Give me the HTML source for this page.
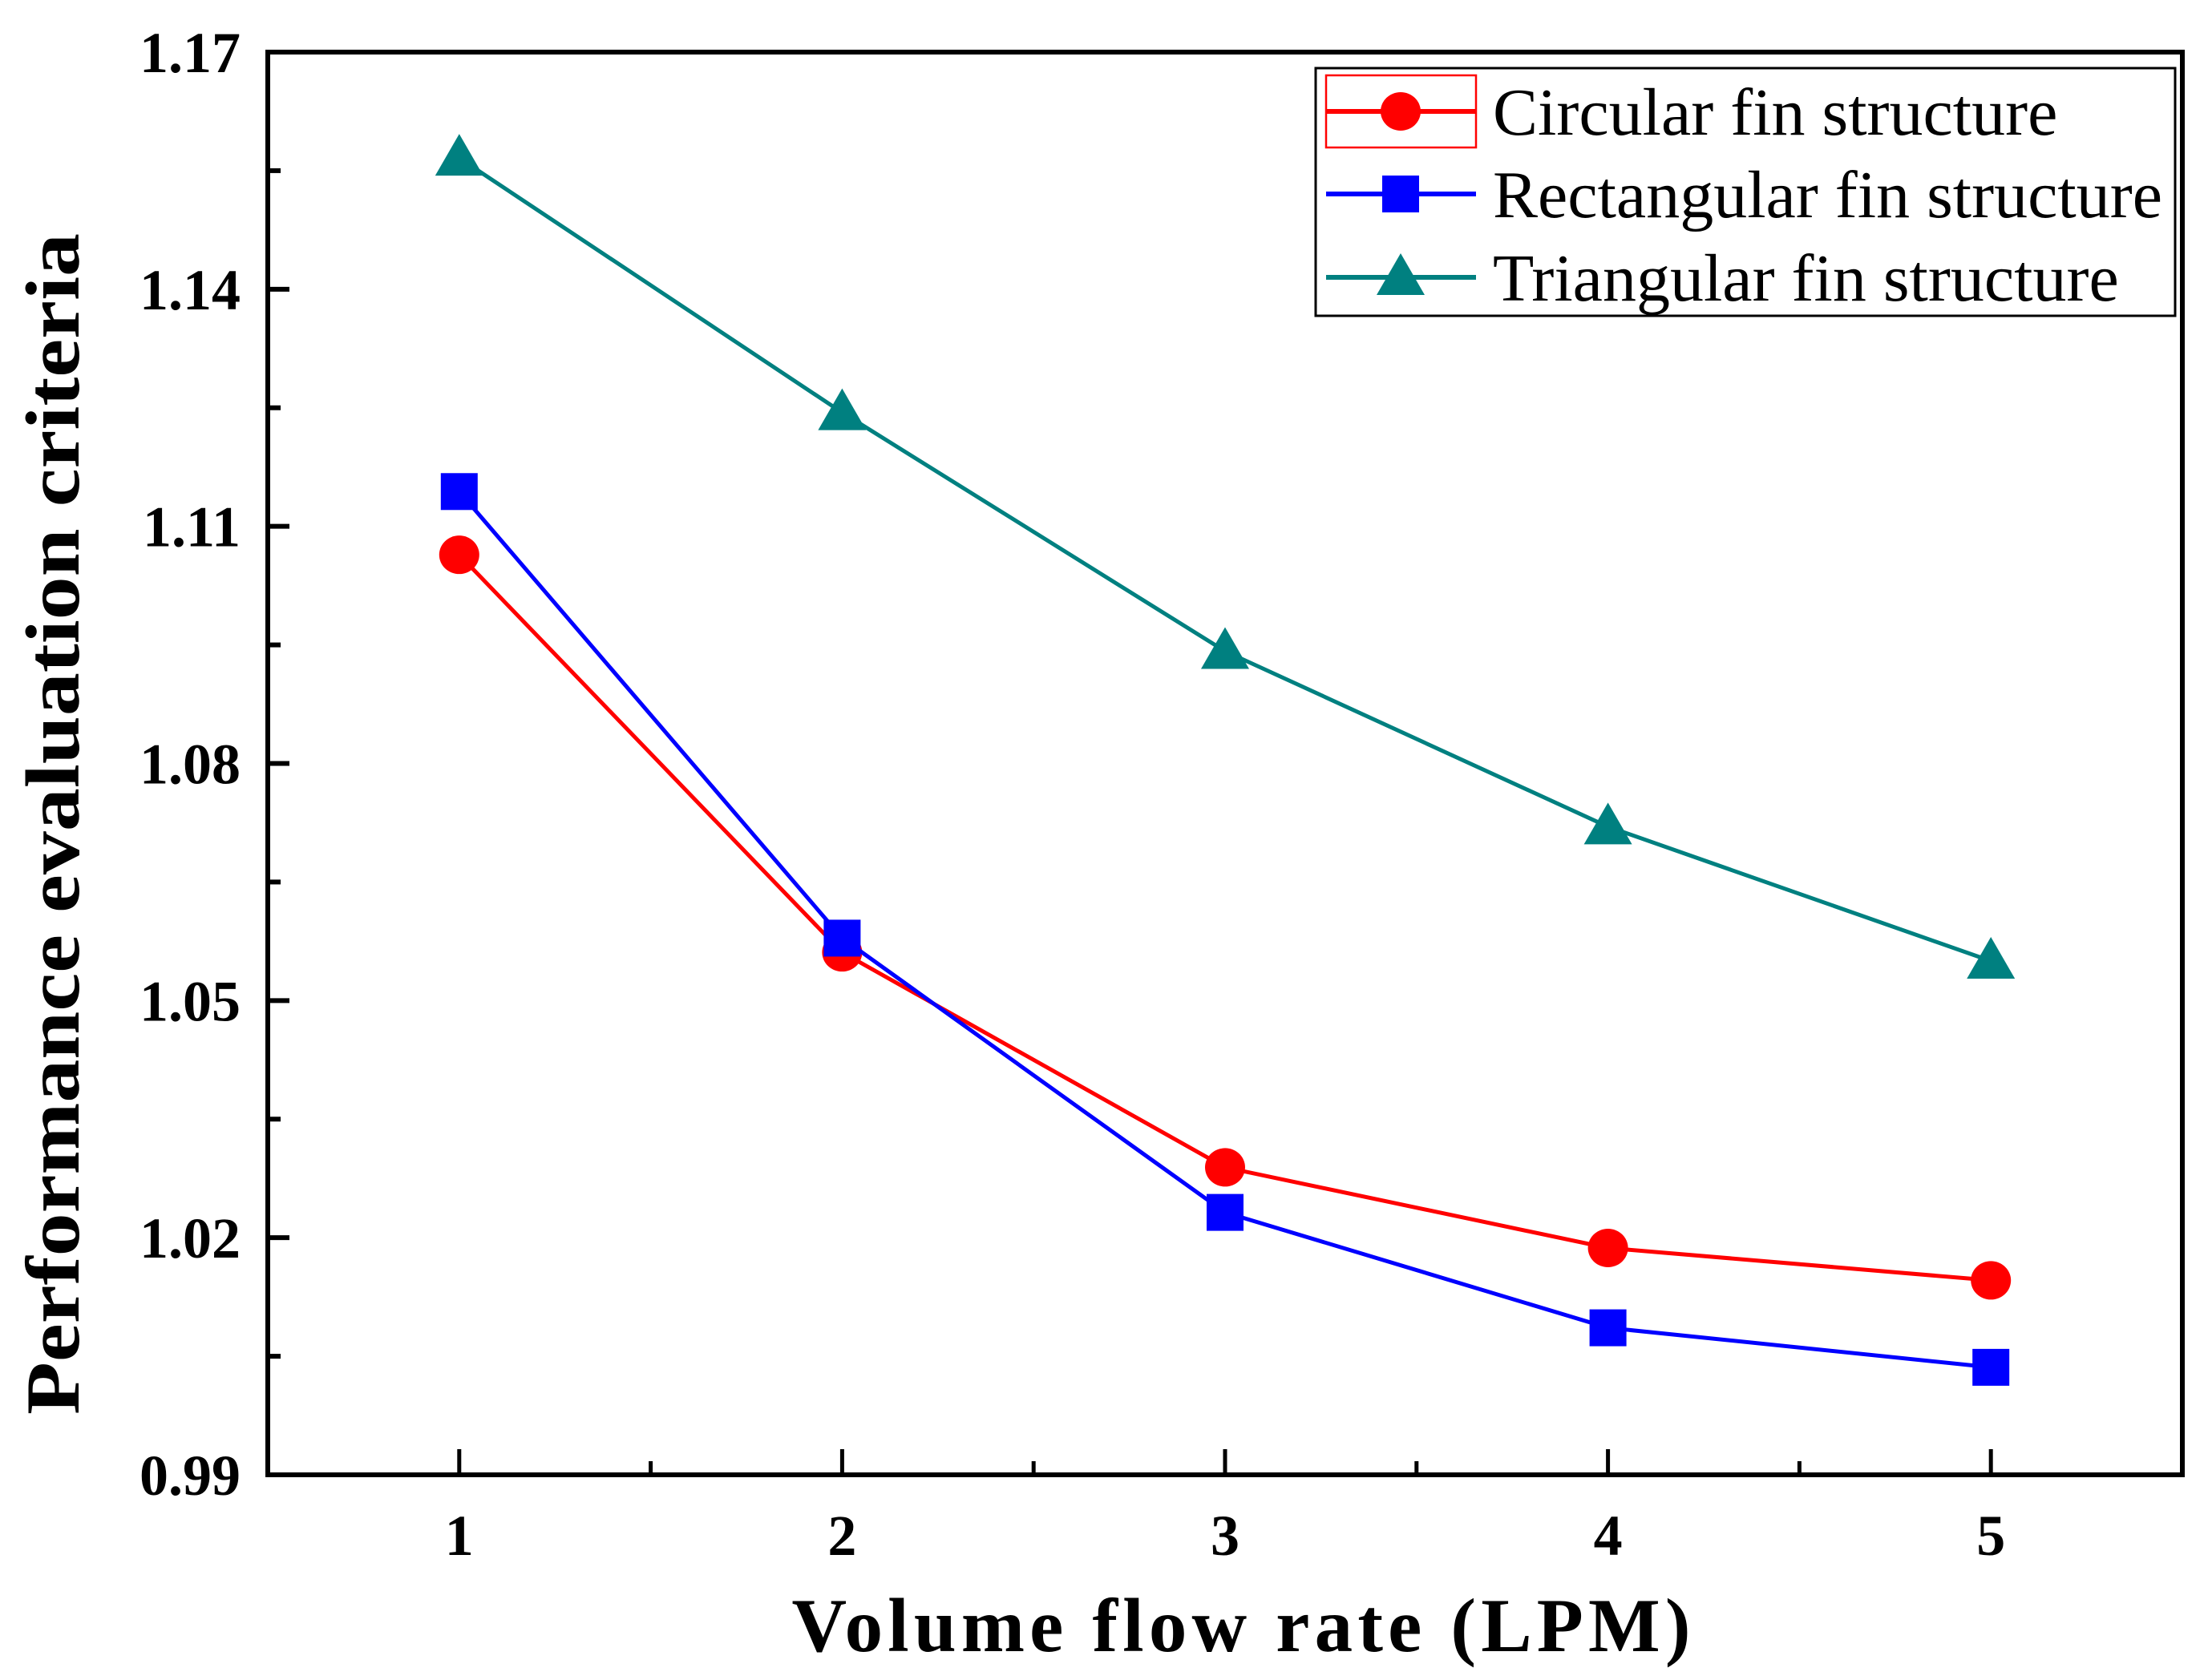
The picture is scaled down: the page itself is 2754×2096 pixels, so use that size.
<!DOCTYPE html>
<html><head><meta charset="utf-8"><style>
html,body{margin:0;padding:0;background:#fff;}
svg{display:block;}
text{font-family:"Liberation Serif",serif;}
</style></head><body>
<svg id="chart" width="2754" height="2096" viewBox="0 0 2754 2096" xmlns="http://www.w3.org/2000/svg">
<rect width="2754" height="2096" fill="#fff"/>
<g id="series"></g>
<rect x="334" y="65" width="2388" height="1775" fill="none" stroke="#000" stroke-width="6"/>
<g id="axes"></g>
<text x="1548" y="2060" font-size="95" font-weight="bold" text-anchor="middle" textLength="1121" lengthAdjust="spacing">Volume flow rate (LPM)</text>
<text transform="translate(98,1028) rotate(-90)" font-size="95" font-weight="bold" text-anchor="middle" textLength="1474" lengthAdjust="spacingAndGlyphs">Performance evaluation criteria</text>
<g id="legend">
<rect x="1641" y="85" width="1072" height="309" fill="#fff" stroke="#000" stroke-width="3"/>
<rect x="1654" y="94" width="187" height="90" fill="none" stroke="#ff0000" stroke-width="2.5"/>
</g>
</svg>
<script>
const categories = [1, 2, 3, 4, 5];
const circularValues = [1.1064, 1.0561, 1.0289, 1.0187, 1.0146];
const rectangularValues = [1.1144, 1.0579, 1.0232, 1.0086, 1.0036];
const triangularValues = [1.1566, 1.1244, 1.0942, 1.0720, 1.0550];
const seriesNames = ["Circular fin structure", "Rectangular fin structure", "Triangular fin structure"];
const yTickLabels = ["0.99", "1.02", "1.05", "1.08", "1.11", "1.14", "1.17"];
const xTickLabels = ["1", "2", "3", "4", "5"];

const NS = "http://www.w3.org/2000/svg";
const X0 = 334, X1 = 2722, Y0 = 1840, Y1 = 65;
const xMin = 0.5, xMax = 5.5, yMin = 0.99, yMax = 1.17;
function xs(v){ return X0 + (v - xMin) / (xMax - xMin) * (X1 - X0); }
function ys(v){ return Y0 - (v - yMin) / (yMax - yMin) * (Y0 - Y1); }
function mk(tag, attrs, parent){ const e = document.createElementNS(NS, tag); for (const k in attrs) e.setAttribute(k, attrs[k]); parent.appendChild(e); return e; }

const axes = document.getElementById('axes');
yTickLabels.forEach((lab, i) => {
  const v = parseFloat(lab);
  const y = ys(v);
  const t = mk('line', {x1: X0, x2: X0 + 27, y1: y, y2: y, stroke: '#000', 'stroke-width': 6}, axes);
  
  
  const tx = mk('text', {x: 300, y: y + 25, 'font-size': 72, 'font-weight': 'bold', 'text-anchor': 'end'}, axes);
  tx.textContent = lab;
  
  
  if (i < yTickLabels.length - 1) {
    const ym = ys(v + 0.015);
    const m = mk('line', {x1: X0, x2: X0 + 16, y1: ym, y2: ym, stroke: '#000', 'stroke-width': 6}, axes);
    
    
  }
});
xTickLabels.forEach((lab, i) => {
  const v = parseFloat(lab);
  const x = xs(v);
  const t = mk('line', {x1: x, x2: x, y1: Y0, y2: Y0 - 32, stroke: '#000', 'stroke-width': 5}, axes);
  
  
  const tx = mk('text', {x: x, y: 1940, 'font-size': 72, 'font-weight': 'bold', 'text-anchor': 'middle'}, axes);
  tx.textContent = lab;
  
  
  if (i < xTickLabels.length - 1) {
    const xm = xs(v + 0.5);
    const m = mk('line', {x1: xm, x2: xm, y1: Y0, y2: Y0 - 17, stroke: '#000', 'stroke-width': 5}, axes);
    
    
  }
});

function marker(shape, cx, cy, color, parent){
  let e;
  if (shape === 'circle') e = mk('ellipse', {cx: cx, cy: cy, rx: 25, ry: 24, fill: color}, parent);
  else if (shape === 'square') e = mk('rect', {x: cx - 23, y: cy - 23, width: 46, height: 46, fill: color}, parent);
  else e = mk('polygon', {points: (cx) + ',' + (cy - 30) + ' ' + (cx - 30) + ',' + (cy + 22) + ' ' + (cx + 30) + ',' + (cy + 22), fill: color}, parent);
  return e;
}

const seriesG = document.getElementById('series');
const allSeries = [
  {vals: circularValues, color: '#ff0000', shape: 'circle', key: 'circular'},
  {vals: rectangularValues, color: '#0000ff', shape: 'square', key: 'rectangular'},
  {vals: triangularValues, color: '#008080', shape: 'triangle', key: 'triangular'}
];
allSeries.forEach(s => {
  const pts = s.vals.map((v, i) => xs(categories[i]) + ',' + ys(v)).join(' ');
  const pl = mk('polyline', {points: pts, fill: 'none', stroke: s.color, 'stroke-width': 5}, seriesG);
  
  
  s.vals.forEach((v, i) => {
    const m = marker(s.shape, xs(categories[i]), ys(v), s.color, seriesG);
    
    
  });
});

const legend = document.getElementById('legend');
const rowY = [139, 242, 346];
allSeries.forEach((s, i) => {
  const ln = mk('line', {x1: 1654, x2: 1841, y1: rowY[i], y2: rowY[i], stroke: s.color, 'stroke-width': 6}, legend);
  
  
  const m = marker(s.shape, 1747, rowY[i], s.color, legend);
  
  
  const t = mk('text', {x: 1862, y: rowY[i] + 29, 'font-size': 84}, legend);
  t.textContent = seriesNames[i];
  
  
});
</script>
</body></html>
